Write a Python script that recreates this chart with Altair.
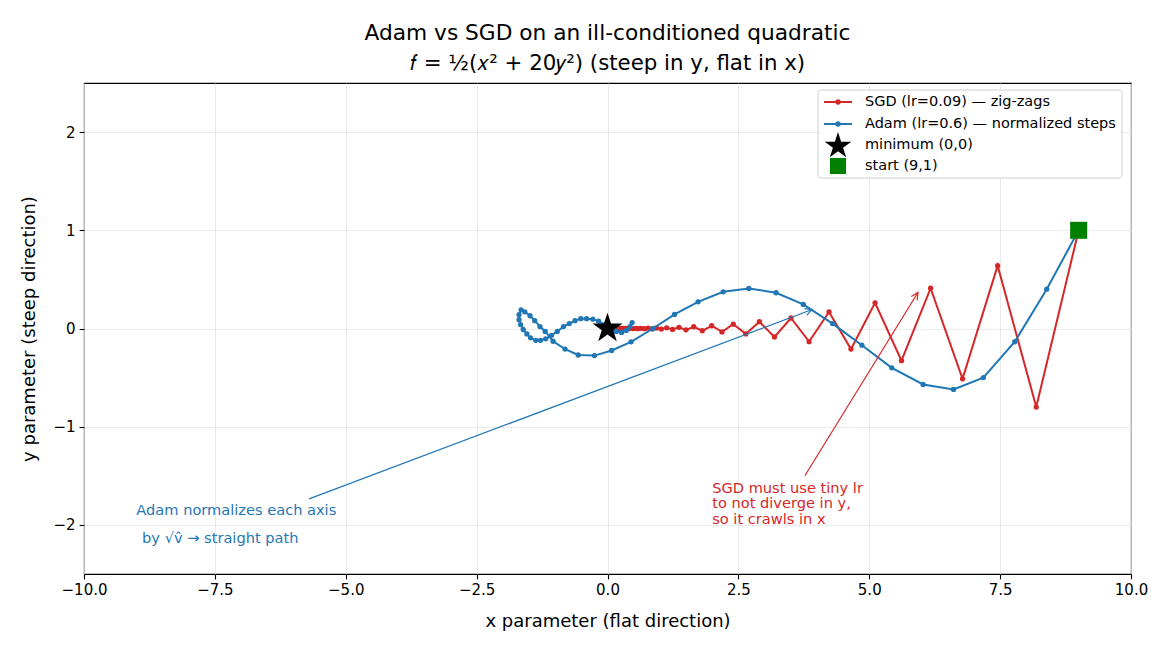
import math
import altair as alt
import pandas as pd

# ---------------- data ----------------
sgd_x = [9.0, 8.19, 7.453, 6.782, 6.172, 5.616, 5.111, 4.651, 4.232, 3.851,
         3.505, 3.189, 2.902, 2.641, 2.403, 2.187, 1.990, 1.811, 1.648, 1.500,
         1.365, 1.242, 1.130, 1.028, 0.936, 0.852, 0.775, 0.705, 0.642, 0.584,
         0.532, 0.484, 0.440, 0.401, 0.365, 0.332, 0.302, 0.275, 0.250, 0.228, 0.207]
sgd_y = [1.0, -0.8, 0.64, -0.512, 0.41, -0.328, 0.262, -0.21, 0.168, -0.134,
         0.107, -0.086, 0.069, -0.055, 0.044, -0.035, 0.028, -0.023, 0.018, -0.014,
         0.012, -0.009, 0.007, -0.006, 0.005, -0.004, 0.003, -0.002, 0.002, -0.001,
         0.001, -0.001, 0.001, 0.0, 0.0, 0.0, 0.0, 0.0, 0.0, 0.0, 0.0]

adam_x = [9.0, 8.39, 7.78, 7.18, 6.61, 6.03, 5.43, 4.86, 4.30, 3.74,
          3.22, 2.70, 2.21, 1.73, 1.28, 0.87, 0.45, 0.08, -0.25, -0.56,
          -0.81, -1.04, -1.19, -1.29, -1.39, -1.48, -1.58, -1.65, -1.69, -1.69,
          -1.66, -1.61, -1.54, -1.47, -1.37, -1.28, -1.18, -1.07, -0.96, -0.84,
          -0.73, -0.62, -0.51, -0.40, -0.28, -0.17, -0.06, 0.06, 0.17, 0.27,
          0.36, 0.43, 0.47]
adam_y = [1.0, 0.40, -0.135, -0.50, -0.62, -0.57, -0.40, -0.17, 0.05, 0.245,
          0.364, 0.408, 0.374, 0.272, 0.143, 0.0, -0.136, -0.224, -0.276, -0.27,
          -0.21, -0.13, -0.03, 0.02, 0.08, 0.13, 0.17, 0.19, 0.14, 0.09,
          0.04, -0.01, -0.055, -0.095, -0.12, -0.12, -0.105, -0.07, -0.03, 0.02,
          0.05, 0.08, 0.10, 0.10, 0.095, 0.075, 0.04, 0.0, -0.03, -0.04,
          -0.02, 0.02, 0.06]

min_pt = (0.0, 0.0)
start_pt = (9.0, 1.0)

# annotations: arrow start (x, y), arrow tip (x, y)
adam_arrow = [-5.70, -1.735, 3.91, 0.194]
sgd_arrow = [3.77, -1.50, 5.93, 0.367]
adam_text = ["Adam normalizes each axis", "by √v̂ → straight path"]
adam_text_x = [-9.0, -8.89]
adam_text_y = [-1.857, -2.143]
sgd_text = ["SGD must use tiny lr", "to not diverge in y,", "so it crawls in x"]
sgd_text_x = [2.0, 2.0, 2.0]
sgd_text_y = [-1.633, -1.786, -1.949]

legend_labels = ["SGD (lr=0.09) — zig-zags", "Adam (lr=0.6) — normalized steps",
                 "minimum (0,0)", "start (9,1)"]

x_ticks = [-10, -7.5, -5, -2.5, 0, 2.5, 5, 7.5, 10]
y_ticks = [-2, -1, 0, 1, 2]

title_lines = ["Adam vs SGD on an ill-conditioned quadratic",
               "𝑓 = ½(𝑥² + 20𝑦²) (steep in y, flat in x)"]

# ---------------- styling ----------------
RED = "#d62728"
BLUE = "#1f77b4"
FONT = "DejaVu Sans"
W, H = 1047, 491
STAR = ("M0,-1 L0.2245,-0.309 L0.951,-0.309 L0.363,0.118 L0.588,0.809 "
        "L0,0.382 L-0.588,0.809 L-0.363,0.118 L-0.951,-0.309 L-0.2245,-0.309 Z")
HEAD = "M-1,-0.5 L0,0 L-1,0.5"

xs = alt.Scale(domain=[-10, 10], nice=False, zero=False)
ys = alt.Scale(domain=[-2.5, 2.5], nice=False, zero=False)

x_axis = alt.Axis(values=x_ticks, title="x parameter (flat direction)",
                  labelExpr="replace(format(datum.value, '.1f'), '-', '−')")
y_axis = alt.Axis(values=y_ticks, title="y parameter (steep direction)",
                  labelExpr="replace(format(datum.value, 'd'), '-', '−')")

sgd_df = pd.DataFrame({"x": sgd_x, "y": sgd_y, "i": range(len(sgd_x))})
adam_df = pd.DataFrame({"x": adam_x, "y": adam_y, "i": range(len(adam_x))})


def enc(ch):
    return ch.encode(x=alt.X("x:Q", scale=xs, axis=x_axis),
                     y=alt.Y("y:Q", scale=ys, axis=y_axis),
                     order="i:Q")


sgd_line = enc(alt.Chart(sgd_df).mark_line(color=RED, strokeWidth=2))
sgd_pts = enc(alt.Chart(sgd_df).mark_circle(color=RED, size=28, opacity=1))
adam_line = enc(alt.Chart(adam_df).mark_line(color=BLUE, strokeWidth=2))
adam_pts = enc(alt.Chart(adam_df).mark_circle(color=BLUE, size=28, opacity=1))

ppx = W / 20.0
ppy = H / 5.0


def arrow_layers(a, color):
    dx = (a[2] - a[0]) * ppx
    dy = -(a[3] - a[1]) * ppy
    ang = math.degrees(math.atan2(dy, dx)) % 360
    df = pd.DataFrame({"x": [a[0]], "y": [a[1]], "x2": [a[2]], "y2": [a[3]], "ang": [ang]})
    line = alt.Chart(df).mark_rule(color=color, strokeWidth=1.2).encode(
        x=alt.X("x:Q", scale=xs), y=alt.Y("y:Q", scale=ys), x2="x2:Q", y2="y2:Q")
    head = alt.Chart(df).mark_point(shape=HEAD, filled=False, color=color, size=196,
                                    strokeWidth=1.2, opacity=1).encode(
        x=alt.X("x2:Q", scale=xs), y=alt.Y("y2:Q", scale=ys),
        angle=alt.Angle("ang:Q", scale=None))
    return [line, head]


def text_layer(lines, tx, ty, color):
    df = pd.DataFrame({"t": lines, "x": tx, "y": ty})
    return alt.Chart(df).mark_text(align="left", baseline="middle", font=FONT,
                                   fontSize=14.6, color=color).encode(
        x=alt.X("x:Q", scale=xs), y=alt.Y("y:Q", scale=ys), text="t:N")


min_df = pd.DataFrame({"x": [min_pt[0]], "y": [min_pt[1]]})
start_df = pd.DataFrame({"x": [start_pt[0]], "y": [start_pt[1]]})
star = alt.Chart(min_df).mark_point(shape=STAR, filled=True, color="black", size=1000,
                                    opacity=1).encode(
    x=alt.X("x:Q", scale=xs), y=alt.Y("y:Q", scale=ys))
square = alt.Chart(start_df).mark_point(shape="square", filled=True, color="green",
                                        size=290, opacity=1).encode(
    x=alt.X("x:Q", scale=xs), y=alt.Y("y:Q", scale=ys))

# ---------------- legend (pixel positions inside plot area) ----------------
one = pd.DataFrame({"k": [0]})
legend = [alt.Chart(one).mark_rect(fill="white", stroke="#cccccc", strokeWidth=1,
                                   cornerRadius=3, opacity=0.9).encode(
    x=alt.value(734), x2=alt.value(1038), y=alt.value(7), y2=alt.value(95))]
row_y = [19, 41, 62, 83]
for col, ry in zip([RED, BLUE], row_y[:2]):
    legend.append(alt.Chart(one).mark_rule(color=col, strokeWidth=2).encode(
        x=alt.value(740), x2=alt.value(768), y=alt.value(ry)))
    legend.append(alt.Chart(one).mark_circle(color=col, size=28, opacity=1).encode(
        x=alt.value(754), y=alt.value(ry)))
legend.append(alt.Chart(one).mark_point(shape=STAR, filled=True, color="black",
                                        size=780, opacity=1).encode(
    x=alt.value(754), y=alt.value(row_y[2] + 1)))
legend.append(alt.Chart(one).mark_point(shape="square", filled=True, color="green",
                                        size=260, opacity=1).encode(
    x=alt.value(754), y=alt.value(row_y[3])))
for lab, ry in zip(legend_labels, row_y):
    legend.append(alt.Chart(pd.DataFrame({"t": [lab]})).mark_text(
        align="left", baseline="middle", font=FONT, fontSize=14.5, color="black").encode(
        x=alt.value(781), y=alt.value(ry), text="t:N"))

# ---------------- title ----------------
titles = []
for line, ty, fs in zip(title_lines, [-50, -19], [21.7, 21.3]):
    titles.append(alt.Chart(pd.DataFrame({"t": [line]})).mark_text(
        align="center", baseline="middle", font=FONT, fontSize=fs, color="black").encode(
        x=alt.value(W / 2), y=alt.value(ty), text="t:N"))

layers = ([sgd_line, sgd_pts, adam_line, adam_pts]
          + arrow_layers(adam_arrow, BLUE) + arrow_layers(sgd_arrow, RED)
          + [text_layer(adam_text, adam_text_x, adam_text_y, BLUE),
             text_layer(sgd_text, sgd_text_x, sgd_text_y, RED),
             star, square] + legend + titles)

chart = alt.layer(*layers).properties(
    width=W, height=H,
    autosize=alt.AutoSizeParams(type="none"),
    padding={"left": 84, "top": 83, "right": 39, "bottom": 76},
).configure_view(
    stroke="black", strokeWidth=1.1
).configure_axis(
    domain=False, grid=True, gridColor="#e6e6e6", gridWidth=0.8,
    ticks=True, tickColor="black", tickSize=4.9, tickWidth=1.1,
    labelFont=FONT, labelFontSize=15, labelColor="black", labelPadding=4,
    titleFont=FONT, titleFontSize=18, titleFontWeight="normal", titleColor="black",
    labelFlush=False, labelOverlap=False,
).configure_axisX(titlePadding=15).configure_axisY(titlePadding=14)

chart.save("out.html", embed_options={"renderer": "svg", "actions": False})
